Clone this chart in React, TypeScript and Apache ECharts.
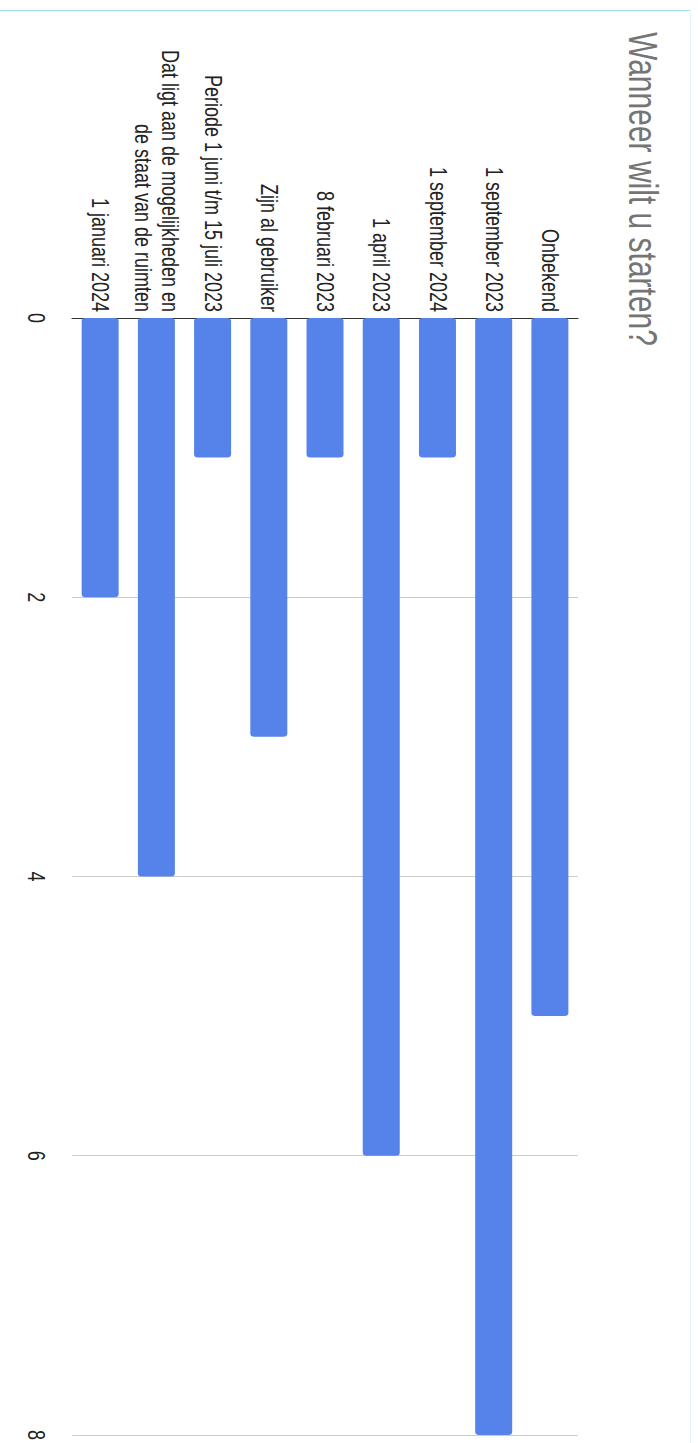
import React, { useEffect, useRef } from "react";
import * as echarts from "echarts";

const titleText = "Wanneer wilt u starten?";
const categories = [
  "Onbekend",
  "1 september 2023",
  "1 september 2024",
  "1 april 2023",
  "8 februari 2023",
  "Zijn al gebruiker",
  "Periode 1 juni t/m 15 juli 2023",
  "Dat ligt aan de mogelijkheden en\nde staat van de ruimten",
  "1 januari 2024",
];
const counts = [5, 8, 1, 6, 1, 3, 1, 4, 2];
const valueMin = 0;
const valueMax = 8;
const valueStep = 2;

const K = 1.35;
const PAGE_W = 698;
const PAGE_H = 1443;
const FRAME_W = PAGE_H;
const FRAME_H = PAGE_W / K;
const FONT = "'Liberation Sans', Arial, sans-serif";

export default function App() {
  const ref = useRef<HTMLDivElement>(null);
  useEffect(() => {
    const chart = echarts.init(ref.current!, null, { renderer: "svg" });
    chart.setOption({
      animation: false,
      title: {
        text: titleText,
        left: 27,
        top: 21,
        textStyle: { fontSize: 30, fontWeight: "normal", color: "#757575", fontFamily: FONT },
      },
      grid: {
        left: 318,
        right: 3,
        top: (PAGE_W - 578) / K,
        bottom: FRAME_H - (PAGE_W - 72) / K,
      },
      xAxis: {
        type: "value",
        min: valueMin,
        max: valueMax,
        interval: valueStep,
        axisLine: { show: false },
        axisTick: { show: false },
        splitLine: { lineStyle: { color: "#cccccc", width: 1 } },
        axisLabel: { margin: 18, fontSize: 18, color: "#222222", fontFamily: FONT },
      },
      yAxis: {
        type: "category",
        inverse: true,
        data: categories,
        axisTick: { show: false },
        axisLine: { show: true, lineStyle: { color: "#333333", width: 1 } },
        axisLabel: {
          margin: 6,
          fontSize: 18,
          lineHeight: 20,
          color: "#222222",
          fontFamily: FONT,
          align: "right",
        },
      },
      series: [
        {
          type: "bar",
          data: counts,
          barWidth: 37 / K,
          itemStyle: { color: "#5583ea", borderRadius: 3 },
        },
      ],
    });
    return () => chart.dispose();
  }, []);
  return (
    <div
      style={{
        position: "absolute",
        left: 0,
        top: 0,
        width: PAGE_W,
        height: PAGE_H,
        overflow: "hidden",
        background: "#ffffff",
      }}
    >
      <div
        ref={ref}
        style={{
          position: "absolute",
          left: 0,
          top: 0,
          width: FRAME_W,
          height: FRAME_H,
          transformOrigin: "0 0",
          transform: `matrix(0, 1, ${-K}, 0, ${PAGE_W}, 0)`,
        }}
      />
      <div style={{ position: "absolute", left: 0, top: 10, width: 690, height: 1, background: "#a6dfe9" }} />
      <div style={{ position: "absolute", left: 690, top: 10, width: 1, height: PAGE_H - 10, background: "#e4f3f7" }} />
    </div>
  );
}
